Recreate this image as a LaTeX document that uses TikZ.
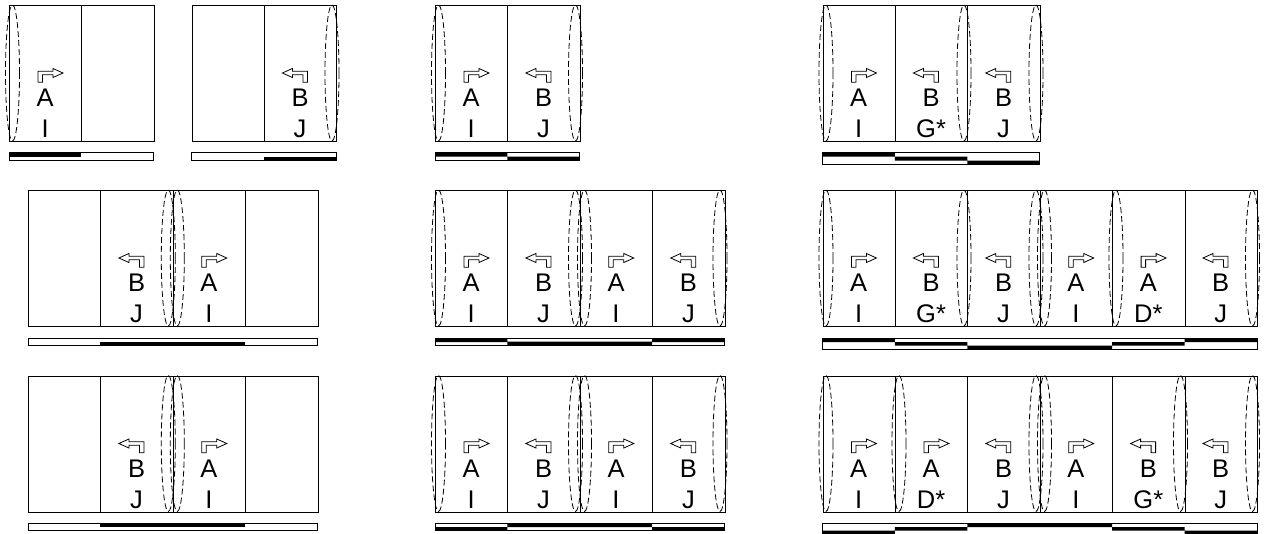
\documentclass[tikz,border=0pt]{standalone}
\usepackage{fontspec}
\setmainfont{Liberation Sans}
\usetikzlibrary{shapes, positioning}

\begin{document}
\begin{tikzpicture}[x=1pt, y=-1pt, line width=0.8pt,
    cell/.style={draw, rectangle, anchor=north west, inner sep=0pt, minimum width=72.4pt, minimum height=136pt},
    lens/.style={draw, ellipse, inner sep=0pt, line width=0.8pt, dash pattern=on 6pt off 3pt, minimum width=14pt, minimum height=136pt},
    letter/.style={anchor=base, inner sep=0pt, font=\fontsize{25.5}{25.5}\selectfont},
    acell/.pic={
        \node[cell] (-box) at (0,0) {};
        \draw (29,77.2) -- (29,66.2) -- (44,66.2) -- (44,63.5) -- (54,68) -- (44,72.5) -- (44,69.8) -- (33.5,69.8) -- (33.5,77.2) -- cycle;
        \node[letter] (-dir) at (36.2,101.5) {A};
        \node[letter] (-tag) at (36.2,132.5) {#1};
    },
    bcell/.pic={
        \node[cell] (-box) at (0,0) {};
        \draw (43.5,77.2) -- (43.5,66.2) -- (28.5,66.2) -- (28.5,63.5) -- (18.5,68) -- (28.5,72.5) -- (28.5,69.8) -- (39,69.8) -- (39,77.2) -- cycle;
        \node[letter] (-dir) at (36.2,101.5) {B};
        \node[letter] (-tag) at (36.2,132.5) {#1};
    }]

    \useasboundingbox (0.5,0.5) rectangle (1264.5,533.5);

    % Rangée 1
    \pic (pa) at (9.5,5.5) {acell=I};
    \node[cell] (pb) at (81.9,5.5) {};
    \node[lens] (pl) at (13,73.5) {};
    \draw (9.5,153) rectangle (154.3,161);
    \fill (9.5,153) rectangle (81.9,157);

    \node[cell] (qa) at (192,5.5) {};
    \pic (qb) at (264.4,5.5) {bcell=J};
    \node[lens] (ql) at (332.5,73.5) {};
    \draw (192,153) rectangle (336.8,161);
    \fill (264.4,157) rectangle (336.8,161);

    \pic (ra) at (435.5,5.5) {acell=I};
    \pic (rb) at (507.9,5.5) {bcell=J};
    \node[lens] (rl) at (439,73.5) {};
    \node[lens] (rr) at (576,73.5) {};
    \draw (435.5,153) rectangle (580.3,161);
    \fill (435.5,153) rectangle (507.9,157) (507.9,157) rectangle (580.3,161);

    \pic (sa) at (823,5.5) {acell=I};
    \pic (sb) at (895.4,5.5) {bcell=G*};
    \pic (sc) at (967.8,5.5) {bcell=J};
    \node[lens] (sl) at (826.5,73.5) {};
    \node[lens] (sm) at (964.5,73.5) {};
    \node[lens] (sr) at (1036.5,73.5) {};
    \draw (823,153) rectangle (1040.2,164.5);
    \fill (823,153) rectangle (895.4,157) (895.4,157) rectangle (967.8,161) (967.8,161) rectangle (1040.2,164.5);

    % Rangée 2
    \node[cell] (ta) at (28.5,190.5) {};
    \pic (tb) at (100.9,190.5) {bcell=J};
    \pic (tc) at (173.3,190.5) {acell=I};
    \node[cell] (td) at (245.7,190.5) {};
    \node[lens] (tl) at (168.8,258.5) {};
    \node[lens] (tr) at (177.8,258.5) {};
    \draw (28.5,338.5) rectangle (318.1,346);
    \fill (100.9,342) rectangle (245.7,346);

    \pic (ua) at (435.5,190.5) {acell=I};
    \pic (ub) at (507.9,190.5) {bcell=J};
    \pic (uc) at (580.3,190.5) {acell=I};
    \pic (ud) at (652.7,190.5) {bcell=J};
    \node[lens] (ul) at (439,258.5) {};
    \node[lens] (um) at (576,258.5) {};
    \node[lens] (un) at (585,258.5) {};
    \node[lens] (ur) at (720.5,258.5) {};
    \draw (435.5,338.5) rectangle (725.1,346);
    \fill (435.5,338.5) rectangle (507.9,342.5) (507.9,342) rectangle (652.7,346) (652.7,338.5) rectangle (725.1,342.5);

    \pic (va) at (823,190.5) {acell=I};
    \pic (vb) at (895.4,190.5) {bcell=G*};
    \pic (vc) at (967.8,190.5) {bcell=J};
    \pic (vd) at (1040.2,190.5) {acell=I};
    \pic (ve) at (1112.6,190.5) {acell=D*};
    \pic (vf) at (1185,190.5) {bcell=J};
    \node[lens] (vl) at (826.5,258.5) {};
    \node[lens] (vm) at (964.5,258.5) {};
    \node[lens] (vn) at (1036.5,258.5) {};
    \node[lens] (vo) at (1045,258.5) {};
    \node[lens] (vp) at (1116.5,258.5) {};
    \node[lens] (vr) at (1253,258.5) {};
    \draw (823,338.5) rectangle (1257.4,350);
    \fill (823,338.5) rectangle (895.4,342.5) (895.4,342.5) rectangle (967.8,346) (967.8,346) rectangle (1112.6,350) (1112.6,342.5) rectangle (1185,346) (1185,338.5) rectangle (1257.4,342.5);

    % Rangée 3
    \node[cell] (wa) at (28.5,376) {};
    \pic (wb) at (100.9,376) {bcell=J};
    \pic (wc) at (173.3,376) {acell=I};
    \node[cell] (wd) at (245.7,376) {};
    \node[lens] (wl) at (168.8,444) {};
    \node[lens] (wr) at (177.8,444) {};
    \draw (28.5,523.5) rectangle (318.1,531);
    \fill (100.9,523.5) rectangle (245.7,527.5);

    \pic (xa) at (435.5,376) {acell=I};
    \pic (xb) at (507.9,376) {bcell=J};
    \pic (xc) at (580.3,376) {acell=I};
    \pic (xd) at (652.7,376) {bcell=J};
    \node[lens] (xl) at (439,444) {};
    \node[lens] (xm) at (576,444) {};
    \node[lens] (xn) at (585,444) {};
    \node[lens] (xr) at (720.5,444) {};
    \draw (435.5,523.5) rectangle (725.1,531);
    \fill (435.5,527.5) rectangle (507.9,531) (507.9,523.5) rectangle (652.7,527.5) (652.7,527.5) rectangle (725.1,531);

    \pic (ya) at (823,376) {acell=I};
    \pic (yb) at (895.4,376) {acell=D*};
    \pic (yc) at (967.8,376) {bcell=J};
    \pic (yd) at (1040.2,376) {acell=I};
    \pic (ye) at (1112.6,376) {bcell=G*};
    \pic (yf) at (1185,376) {bcell=J};
    \node[lens] (yl) at (826.5,444) {};
    \node[lens] (ym) at (899.5,444) {};
    \node[lens] (yn) at (1036.5,444) {};
    \node[lens] (yo) at (1045,444) {};
    \node[lens] (yp) at (1181,444) {};
    \node[lens] (yr) at (1253,444) {};
    \draw (823,523.5) rectangle (1257.4,535);
    \fill (823,531) rectangle (895.4,535) (895.4,527.5) rectangle (967.8,531) (967.8,523.5) rectangle (1112.6,527.5) (1112.6,527.5) rectangle (1185,531) (1185,531) rectangle (1257.4,535);

\end{tikzpicture}
\end{document}
